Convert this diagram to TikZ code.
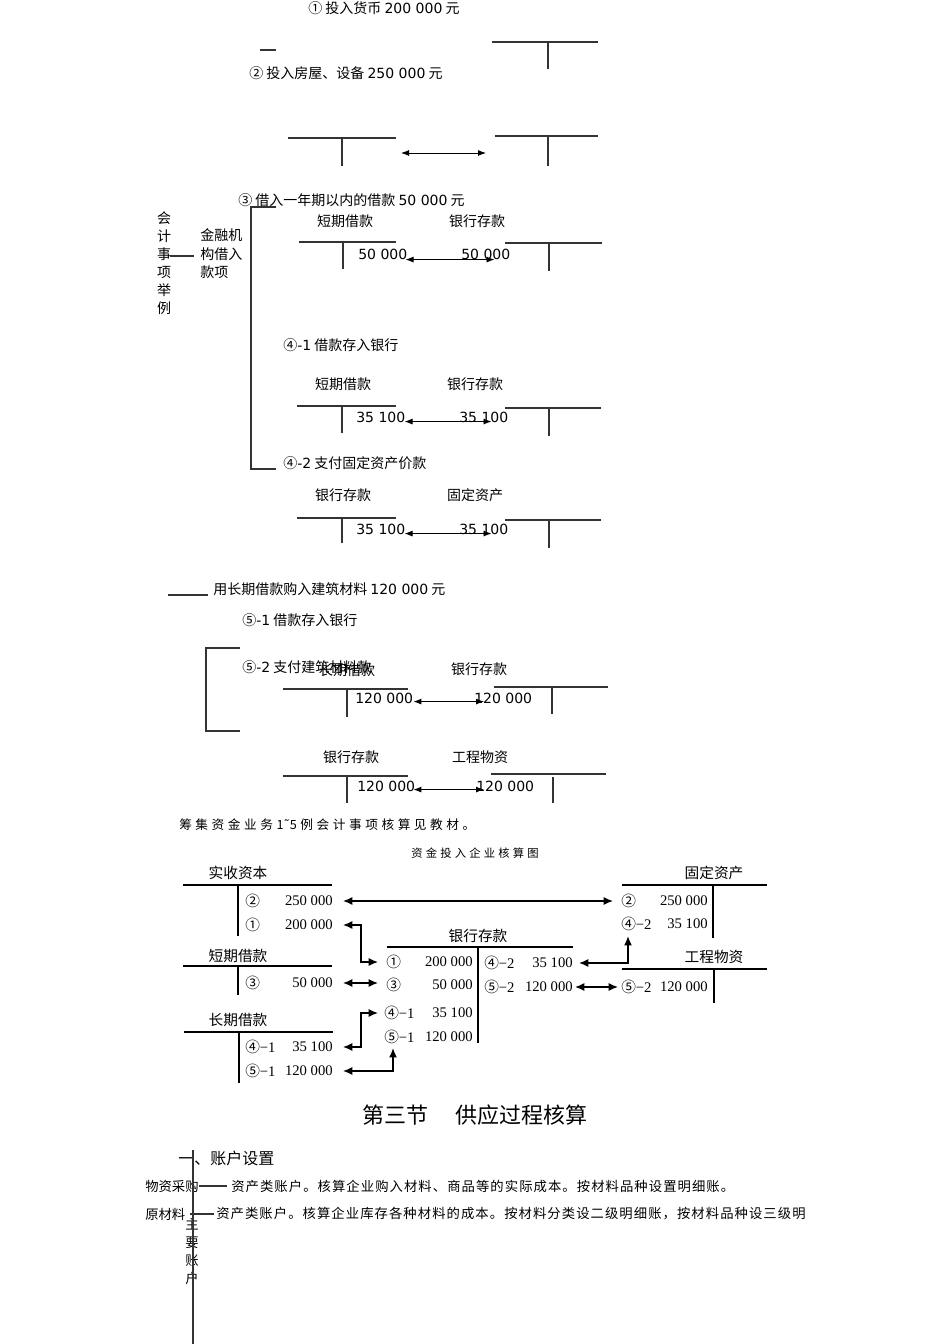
\documentclass[tikz,border=0pt]{standalone}
\usepackage{fontspec}
\setmainfont{Noto Sans CJK SC}
\newfontfamily\dvsans{DejaVu Sans}
\newfontfamily\tnr{Liberation Serif}
\newfontfamily\widecjk[LetterSpace=28]{Noto Sans CJK SC}
\newfontfamily\bodycjk[LetterSpace=8]{Noto Sans CJK SC}
\usetikzlibrary{arrows.meta,calc}

\begin{document}
\begin{tikzpicture}[x=0.75pt,y=0.75pt,yscale=-1,xscale=1,
  txt/.style={inner sep=0pt,font=\fontsize{10.5}{13}\selectfont},
  lab/.style={txt,anchor=west},
  num/.style={lab,font=\fontsize{10.5}{13}\dvsans},
  tline/.style={line width=0.8pt,black!80},
  dbl/.style={{Latex[length=6pt,width=4.5pt]}-{Latex[length=6pt,width=4.5pt]},line width=0.7pt},
  head/.style={inner sep=0pt,font=\fontsize{11}{13}\selectfont},
  ent/.style={inner sep=0pt,anchor=west,font=\fontsize{11}{13}\tnr},
  amt/.style={inner sep=0pt,anchor=east,font=\fontsize{11}{13}\tnr},
  tbold/.style={line width=1.2pt},
  link/.style={{Latex[length=7pt,width=6pt]}-{Latex[length=7pt,width=6pt]},line width=1pt},
  note/.style={inner sep=0pt,anchor=west,font=\fontsize{10}{12}\bodycjk}
]
\useasboundingbox (0,0) rectangle (950,1344);

% Text Node
\draw (308,8) node[lab] (t1) {① 投入货币 {\dvsans 200 000} 元};
% Connection
\draw[tline] (260,50) -- (276,50);
\draw[tline] (492,42) -- (598,42) (548,42) -- (548,69);
% Text Node
\draw (249,73) node[lab] (t2) {② 投入房屋、设备 {\dvsans 250 000} 元};
% Connection
\draw[tline] (288,138) -- (396,138) (342,138) -- (342,166);
\draw[tline] (495,136) -- (598,136) (548,136) -- (548,166);
\coordinate (p2l) at (401,153);
\coordinate (p2r) at (486,153);
\draw[dbl] (p2l) -- (p2r);

% Text Node
\draw (238,200) node[lab] (t3) {③ 借入一年期以内的借款 {\dvsans 50 000} 元};
\draw (164,263) node[txt,align=center,font=\fontsize{10.5}{13.5}\selectfont] (kjsx) {会\\计\\事\\项\\举\\例};
\draw (200,254) node[lab,align=left,font=\fontsize{10.5}{13.8}\selectfont] (jrjg) {金融机\\构借入\\款项};
% Connection
\draw[tline] (276,207) -- (251,207) -- (251,469) -- (276,469);
\draw[tline] ($(kjsx.east)+(-1,-7)$) -- ($(jrjg.west)+(-6,2)$);

% Text Node
\draw (345,221) node[txt] (d3) {短期借款};
\draw (477,221) node[txt] (y3) {银行存款};
\draw (358,254) node[num] (d3n) {50 000};
\draw (461,254) node[num] (y3n) {50 000};
% Connection
\draw[tline] (299,242) -- (396,242) (343,242) -- (343,269);
\draw[tline] (505,243) -- (602,243) (549,243) -- (549,271);
\draw[dbl] ($(d3n.south east)+(-2,0)$) -- ($(y3n.south east)+(-16,0)$);

% Text Node
\draw (283,345) node[lab] (t41) {④{\dvsans -1} 借款存入银行};
\draw (343,384) node[txt] (d41) {短期借款};
\draw (475,384) node[txt] (y41) {银行存款};
\draw (356,417) node[num] (d41n) {35 100};
\draw (459,417) node[num] (y41n) {35 100};
% Connection
\draw[tline] (297,406) -- (396,406) (342,406) -- (342,433);
\draw[tline] (505,408) -- (601,408) (549,408) -- (549,436);
\draw[dbl] ($(d41n.south east)+(-1,-1)$) -- ($(y41n.south east)+(-17,-1)$);

% Text Node
\draw (283,463) node[lab] (t42) {④{\dvsans -2} 支付固定资产价款};
\draw (343,495) node[txt] (y42) {银行存款};
\draw (475,495) node[txt] (g42t) {固定资产};
\draw (356,529) node[num] (y42n) {35 100};
\draw (459,529) node[num] (g42n) {35 100};
% Connection
\draw[tline] (297,518) -- (396,518) (342,518) -- (342,543);
\draw[tline] (505,520) -- (601,520) (549,520) -- (549,548);
\draw[dbl] ($(y42n.south east)+(-1,-1)$) -- ($(g42n.south east)+(-17,-1)$);

% Text Node
\draw (213,589) node[lab] (t5) {用长期借款购入建筑材料 {\dvsans 120 000} 元};
\draw (242,620) node[lab] (t51) {⑤{\dvsans -1} 借款存入银行};
\draw (242,667) node[lab] (t52) {⑤{\dvsans -2} 支付建筑材料款};
% Connection
\draw[tline] (168,595) -- ($(t5.west)+(-5,6)$);
\draw[tline] (240,648) -- (206,648) -- (206,731) -- (240,731);

% Text Node
\draw (347,670) node[txt] (c5) {长期借款};
\draw (479,669) node[txt] (y51) {银行存款};
\draw (355,698) node[num] (c5n) {120 000};
\draw (474,698) node[num] (y51n) {120 000};
% Connection
\draw[tline] (283,689) -- (408,689) (347,689) -- (347,717);
\draw[tline] (494,687) -- (608,687) (552,687) -- (552,714);
\draw[dbl] ($(c5n.south east)+(0,-2)$) -- ($(y51n.south west)+(10,-2)$);

% Text Node
\draw (351,757) node[txt] (y52) {银行存款};
\draw (480,757) node[txt] (k5) {工程物资};
\draw (357,786) node[num] (y52n) {120 000};
\draw (476,786) node[num] (k5n) {120 000};
% Connection
\draw[tline] (283,776) -- (408,776) (347,776) -- (347,803);
\draw[tline] (491,774) -- (606,774) (553,777) -- (553,803);
\draw[dbl] ($(y52n.south east)+(-2,-2)$) -- ($(k5n.south west)+(8,-2)$);

% Text Node
\draw (179,825) node[inner sep=0pt,anchor=west,font=\fontsize{9.5}{12}\widecjk] (cj) {筹集资金业务1{\dvsans ˜}5例会计事项核算见教材。};
\draw (475,853) node[inner sep=0pt,font=\fontsize{8.5}{10}\widecjk] (tu) {资金投入企业核算图};

% Text Node
\draw (238,873) node[head] (sszb) {实收资本};
\draw (245,901) node[ent] (s2) {{\normalfont ②}};
\draw (333,901) node[amt] (a250) {250 000};
\draw (245,925) node[ent] (s1) {{\normalfont ①}};
\draw (333,925) node[amt] (a200) {200 000};
\draw (238,956) node[head] (dqjk) {短期借款};
\draw (245,983) node[ent] (d3b) {{\normalfont ③}};
\draw (333,983) node[amt] (a50) {50 000};
\draw (238,1020) node[head] (cqjk) {长期借款};
\draw (245,1047) node[ent] (c41) {{\normalfont ④}−1};
\draw (333,1047) node[amt] (c35) {35 100};
\draw (245,1071) node[ent] (c51) {{\normalfont ⑤}−1};
\draw (333,1071) node[amt] (c120) {120 000};
% Connection
\draw[tbold] (183,885) -- (332,885) (238,885) -- (238,936);
\draw[tbold] (183,966) -- (332,966) (238,966) -- (238,995);
\draw[tbold] (184,1032) -- (333,1032) (239,1032) -- (239,1083);

% Text Node
\draw (478,936) node[head] (yhck) {银行存款};
\draw (386,962) node[ent] (b1) {{\normalfont ①}};
\draw (473,962) node[amt] (b200) {200 000};
\draw (386,985) node[ent] (b3) {{\normalfont ③}};
\draw (473,985) node[amt] (b50) {50 000};
\draw (384,1013) node[ent] (b41) {{\normalfont ④}−1};
\draw (473,1013) node[amt] (b35) {35 100};
\draw (384,1037) node[ent] (b51) {{\normalfont ⑤}−1};
\draw (473,1037) node[amt] (b120) {120 000};
\draw (484,963) node[ent] (r42) {{\normalfont ④}−2};
\draw (573,963) node[amt] (r35) {35 100};
\draw (484,987) node[ent] (r52) {{\normalfont ⑤}−2};
\draw (573,987) node[amt] (r120) {120 000};
% Connection
\draw[tbold] (387,947) -- (573,947) (478,947) -- (478,1043);

% Text Node
\draw (714,873) node[head] (gdzc) {固定资产};
\draw (621,901) node[ent] (g2) {{\normalfont ②}};
\draw (708,901) node[amt] (g250) {250 000};
\draw (621,924) node[ent] (g42) {{\normalfont ④}−2};
\draw (708,924) node[amt] (g35) {35 100};
\draw (714,957) node[head] (gcwz) {工程物资};
\draw (621,987) node[ent] (k52) {{\normalfont ⑤}−2};
\draw (708,987) node[amt] (k120) {120 000};
% Connection
\draw[tbold] (622,885) -- (767,885) (713,885) -- (713,938);
\draw[tbold] (622,969) -- (767,969) (714,969) -- (714,1003);

% Connection
\draw[link] ($(a250.east)+(10,0)$) -- ($(g2.west)+(-8,0)$);
\draw[link] ($(a200.east)+(10,0)$) -- ++(18,0) |- ($(b1.west)+(-8,0)$);
\draw[link] ($(a50.east)+(10,0)$) -- ($(b3.west |- a50.east)+(-8,0)$);
\draw[link] ($(c35.east)+(10,0)$) -- ++(18,0) |- ($(b41.west)+(-6,0)$);
\draw[link] ($(c120.east)+(10,0)$) -| ($(b51.south west)+(9,4)$);
\draw[link] ($(r35.east)+(6,0)$) -| ($(g42.south west)+(7,5)$);
\draw[link] ($(r120.east)+(2,0)$) -- ($(k52.west)+(-3,0)$);

% Text Node
\draw (475,1115) node[inner sep=0pt,font=\fontsize{16.5}{20}\selectfont] (jie) {第三节\hspace{1.2em}供应过程核算};
\draw (178,1158) node[inner sep=0pt,anchor=west,font=\fontsize{12}{14}\selectfont] (zhsz) {一、账户设置};
\draw (145,1186) node[inner sep=0pt,anchor=west,font=\fontsize{10}{12}\selectfont] (wzcg) {物资采购};
\draw (231,1186) node[note] (wzcgt) {资产类账户。核算企业购入材料、商品等的实际成本。按材料品种设置明细账。};
\draw (145,1214) node[inner sep=0pt,anchor=west,font=\fontsize{10}{12}\selectfont] (ycl) {原材料};
\draw (216,1214) node[note] (yclt) {资产类账户。核算企业库存各种材料的成本。按材料分类设二级明细账，按材料品种设三级明};
\draw (192,1251) node[inner sep=0pt,align=center,font=\fontsize{10}{13.5}\selectfont] (zyzh) {主\\要\\账\\户};
% Connection
\draw[tline] (wzcg.east) -- ($(wzcgt.west)+(-4,0)$);
\draw[tline] ($(ycl.east)+(4,0)$) -- ($(yclt.west)+(-2,0)$);
\draw[tline] (193,1150) -- (193,1344);

\end{tikzpicture}
\end{document}
